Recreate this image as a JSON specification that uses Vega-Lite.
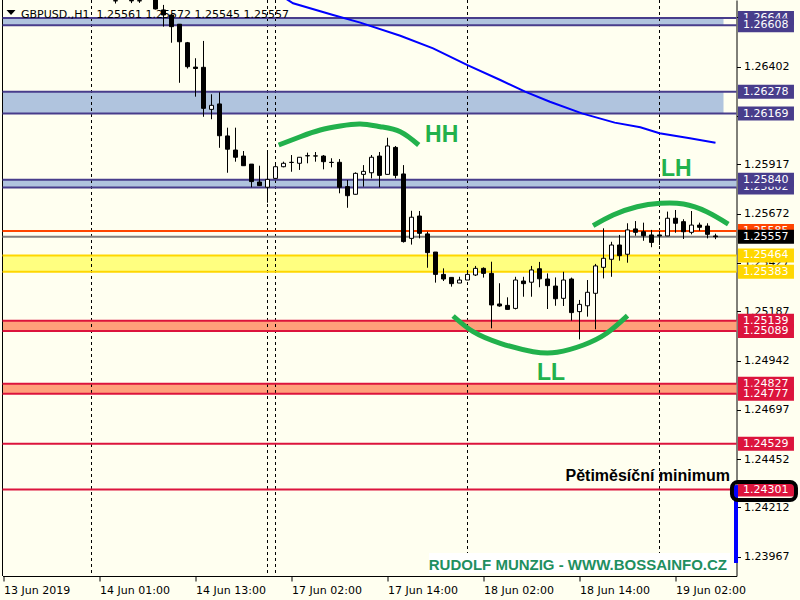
{
 "$schema": "https://vega.github.io/schema/vega-lite/v6.json",
 "width": 734,
 "height": 576,
 "autosize": {"type": "none"},
 "padding": {"left": 2.5, "top": 0, "right": 63.5, "bottom": 24},
 "background": "#FFFFF0",
 "config": {"view": {"stroke": null}, "font": "DejaVu Sans"},
 "datasets": {
  "zones": [
   {"x1": -10, "x2": 90, "p1": 1.26644, "p2": 1.26608, "kind": "blue"},
   {"x1": -10, "x2": 90, "p1": 1.26278, "p2": 1.26169, "kind": "blue"},
   {"x1": -10, "x2": 95, "p1": 1.25840, "p2": 1.25802, "kind": "blue"},
   {"x1": -10, "x2": 95, "p1": 1.25464, "p2": 1.25383, "kind": "yellow"},
   {"x1": -10, "x2": 95, "p1": 1.25139, "p2": 1.25089, "kind": "red"},
   {"x1": -10, "x2": 95, "p1": 1.24827, "p2": 1.24777, "kind": "red"}
  ],
  "hlines": [
   {"p": 1.26644, "kind": "blue"}, {"p": 1.26608, "kind": "blue"},
   {"p": 1.26278, "kind": "blue"}, {"p": 1.26169, "kind": "blue"},
   {"p": 1.25840, "kind": "blue"}, {"p": 1.25802, "kind": "blue"},
   {"p": 1.25464, "kind": "yellow"}, {"p": 1.25383, "kind": "yellow"},
   {"p": 1.25139, "kind": "red"}, {"p": 1.25089, "kind": "red"},
   {"p": 1.24827, "kind": "red"}, {"p": 1.24777, "kind": "red"},
   {"p": 1.24529, "kind": "red"}, {"p": 1.24301, "kind": "red"},
   {"p": 1.25585, "kind": "ask"}, {"p": 1.25557, "kind": "bid"}
  ],
  "seps": [{"i": 11}, {"i": 33}, {"i": 34}, {"i": 58}, {"i": 82}],
  "ma": [
   {"i": 34.5, "p": 1.26760}, {"i": 36.2, "p": 1.26717}, {"i": 41.2, "p": 1.26659},
   {"i": 44.6, "p": 1.26621}, {"i": 49.6, "p": 1.26556}, {"i": 53.7, "p": 1.26493},
   {"i": 58.0, "p": 1.26410}, {"i": 62.1, "p": 1.26336}, {"i": 65.2, "p": 1.26278},
   {"i": 68.3, "p": 1.26228}, {"i": 72.3, "p": 1.26170}, {"i": 76.4, "p": 1.26124},
   {"i": 79.6, "p": 1.26101}, {"i": 82.0, "p": 1.26071}, {"i": 85.8, "p": 1.26046},
   {"i": 89.0, "p": 1.26024}
  ],
  "candles": [
   {"i": 14, "o": 1.26730, "h": 1.26760, "l": 1.26716, "c": 1.26729},
   {"i": 16, "o": 1.26731, "h": 1.26760, "l": 1.26718, "c": 1.26729},
   {"i": 17, "o": 1.26730, "h": 1.26755, "l": 1.26719, "c": 1.26729},
   {"i": 19, "o": 1.26760, "h": 1.26770, "l": 1.26686, "c": 1.26689},
   {"i": 20, "o": 1.26684, "h": 1.26709, "l": 1.26601, "c": 1.26659},
   {"i": 21, "o": 1.26659, "h": 1.26664, "l": 1.26521, "c": 1.26601},
   {"i": 22, "o": 1.26613, "h": 1.26613, "l": 1.26322, "c": 1.26526},
   {"i": 23, "o": 1.26521, "h": 1.26525, "l": 1.26393, "c": 1.26402},
   {"i": 24, "o": 1.26400, "h": 1.26444, "l": 1.26253, "c": 1.26393},
   {"i": 25, "o": 1.26399, "h": 1.26530, "l": 1.26153, "c": 1.26195},
   {"i": 26, "o": 1.26190, "h": 1.26265, "l": 1.26141, "c": 1.26210},
   {"i": 27, "o": 1.26217, "h": 1.26275, "l": 1.25999, "c": 1.26059},
   {"i": 28, "o": 1.26058, "h": 1.26099, "l": 1.25875, "c": 1.25992},
   {"i": 29, "o": 1.25988, "h": 1.26099, "l": 1.25930, "c": 1.25952},
   {"i": 30, "o": 1.25958, "h": 1.25983, "l": 1.25910, "c": 1.25910},
   {"i": 31, "o": 1.25918, "h": 1.25918, "l": 1.25803, "c": 1.25831},
   {"i": 32, "o": 1.25829, "h": 1.25910, "l": 1.25809, "c": 1.25811},
   {"i": 33, "o": 1.25803, "h": 1.25988, "l": 1.25726, "c": 1.25842},
   {"i": 34, "o": 1.25847, "h": 1.25924, "l": 1.25846, "c": 1.25905},
   {"i": 35, "o": 1.25905, "h": 1.25930, "l": 1.25902, "c": 1.25922},
   {"i": 36, "o": 1.25926, "h": 1.25963, "l": 1.25880, "c": 1.25927},
   {"i": 37, "o": 1.25922, "h": 1.25953, "l": 1.25889, "c": 1.25952},
   {"i": 38, "o": 1.25959, "h": 1.25975, "l": 1.25922, "c": 1.25960},
   {"i": 39, "o": 1.25958, "h": 1.25978, "l": 1.25930, "c": 1.25959},
   {"i": 40, "o": 1.25958, "h": 1.25963, "l": 1.25892, "c": 1.25930},
   {"i": 41, "o": 1.25927, "h": 1.25947, "l": 1.25902, "c": 1.25926},
   {"i": 42, "o": 1.25927, "h": 1.25943, "l": 1.25773, "c": 1.25803},
   {"i": 43, "o": 1.25806, "h": 1.25839, "l": 1.25701, "c": 1.25761},
   {"i": 44, "o": 1.25768, "h": 1.25877, "l": 1.25767, "c": 1.25872},
   {"i": 45, "o": 1.25867, "h": 1.25913, "l": 1.25806, "c": 1.25882},
   {"i": 46, "o": 1.25875, "h": 1.25963, "l": 1.25847, "c": 1.25952},
   {"i": 47, "o": 1.25958, "h": 1.25978, "l": 1.25803, "c": 1.25862},
   {"i": 48, "o": 1.25867, "h": 1.26049, "l": 1.25866, "c": 1.26008},
   {"i": 49, "o": 1.26001, "h": 1.26008, "l": 1.25847, "c": 1.25862},
   {"i": 50, "o": 1.25869, "h": 1.25913, "l": 1.25528, "c": 1.25533},
   {"i": 51, "o": 1.25549, "h": 1.25686, "l": 1.25518, "c": 1.25654},
   {"i": 52, "o": 1.25660, "h": 1.25685, "l": 1.25549, "c": 1.25574},
   {"i": 53, "o": 1.25571, "h": 1.25582, "l": 1.25403, "c": 1.25478},
   {"i": 54, "o": 1.25481, "h": 1.25481, "l": 1.25329, "c": 1.25370},
   {"i": 55, "o": 1.25370, "h": 1.25400, "l": 1.25337, "c": 1.25347},
   {"i": 56, "o": 1.25355, "h": 1.25355, "l": 1.25309, "c": 1.25324},
   {"i": 57, "o": 1.25327, "h": 1.25358, "l": 1.25327, "c": 1.25342},
   {"i": 58, "o": 1.25342, "h": 1.25392, "l": 1.25342, "c": 1.25370},
   {"i": 59, "o": 1.25367, "h": 1.25412, "l": 1.25362, "c": 1.25400},
   {"i": 60, "o": 1.25400, "h": 1.25405, "l": 1.25354, "c": 1.25375},
   {"i": 61, "o": 1.25375, "h": 1.25433, "l": 1.25102, "c": 1.25218},
   {"i": 62, "o": 1.25223, "h": 1.25326, "l": 1.25209, "c": 1.25213},
   {"i": 63, "o": 1.25216, "h": 1.25256, "l": 1.25196, "c": 1.25196},
   {"i": 64, "o": 1.25201, "h": 1.25358, "l": 1.25196, "c": 1.25342},
   {"i": 65, "o": 1.25337, "h": 1.25358, "l": 1.25259, "c": 1.25324},
   {"i": 66, "o": 1.25331, "h": 1.25412, "l": 1.25259, "c": 1.25392},
   {"i": 67, "o": 1.25398, "h": 1.25432, "l": 1.25306, "c": 1.25348},
   {"i": 68, "o": 1.25347, "h": 1.25375, "l": 1.25198, "c": 1.25314},
   {"i": 69, "o": 1.25312, "h": 1.25355, "l": 1.25214, "c": 1.25249},
   {"i": 70, "o": 1.25251, "h": 1.25383, "l": 1.25213, "c": 1.25342},
   {"i": 71, "o": 1.25347, "h": 1.25354, "l": 1.25140, "c": 1.25180},
   {"i": 72, "o": 1.25185, "h": 1.25243, "l": 1.25047, "c": 1.25221},
   {"i": 73, "o": 1.25214, "h": 1.25342, "l": 1.25160, "c": 1.25281},
   {"i": 74, "o": 1.25276, "h": 1.25422, "l": 1.25097, "c": 1.25412},
   {"i": 75, "o": 1.25405, "h": 1.25599, "l": 1.25350, "c": 1.25450},
   {"i": 76, "o": 1.25445, "h": 1.25532, "l": 1.25358, "c": 1.25516},
   {"i": 77, "o": 1.25516, "h": 1.25566, "l": 1.25438, "c": 1.25463},
   {"i": 78, "o": 1.25470, "h": 1.25624, "l": 1.25428, "c": 1.25591},
   {"i": 79, "o": 1.25596, "h": 1.25635, "l": 1.25562, "c": 1.25579},
   {"i": 80, "o": 1.25582, "h": 1.25627, "l": 1.25537, "c": 1.25562},
   {"i": 81, "o": 1.25566, "h": 1.25591, "l": 1.25505, "c": 1.25529},
   {"i": 82, "o": 1.25566, "h": 1.25586, "l": 1.25516, "c": 1.25561},
   {"i": 83, "o": 1.25561, "h": 1.25682, "l": 1.25561, "c": 1.25649},
   {"i": 84, "o": 1.25649, "h": 1.25690, "l": 1.25577, "c": 1.25624},
   {"i": 85, "o": 1.25632, "h": 1.25644, "l": 1.25546, "c": 1.25582},
   {"i": 86, "o": 1.25579, "h": 1.25685, "l": 1.25569, "c": 1.25615},
   {"i": 87, "o": 1.25615, "h": 1.25627, "l": 1.25587, "c": 1.25604},
   {"i": 88, "o": 1.25610, "h": 1.25624, "l": 1.25549, "c": 1.25569},
   {"i": 89, "o": 1.25561, "h": 1.25572, "l": 1.25545, "c": 1.25557}
  ],
  "arcs": [
   {"arc": "HH", "i": 34.4, "p": 1.260129}, {"arc": "HH", "i": 37.1, "p": 1.260541},
   {"arc": "HH", "i": 39.6, "p": 1.260874}, {"arc": "HH", "i": 42.1, "p": 1.261073},
   {"arc": "HH", "i": 44.6, "p": 1.261172}, {"arc": "HH", "i": 47.1, "p": 1.261038},
   {"arc": "HH", "i": 49.6, "p": 1.260790}, {"arc": "HH", "i": 51.9, "p": 1.260129},
   {"arc": "LH", "i": 73.7, "p": 1.256119}, {"arc": "LH", "i": 76.2, "p": 1.256651},
   {"arc": "LH", "i": 79.2, "p": 1.257063}, {"arc": "LH", "i": 82.1, "p": 1.257232},
   {"arc": "LH", "i": 85.0, "p": 1.257197}, {"arc": "LH", "i": 87.9, "p": 1.256815},
   {"arc": "LH", "i": 90.6, "p": 1.256203},
   {"arc": "LL", "i": 56.2, "p": 1.251632}, {"arc": "LL", "i": 58.7, "p": 1.250852},
   {"arc": "LL", "i": 62.1, "p": 1.250275}, {"arc": "LL", "i": 66.2, "p": 1.249858},
   {"arc": "LL", "i": 69.2, "p": 1.249828}, {"arc": "LL", "i": 72.5, "p": 1.250191},
   {"arc": "LL", "i": 75.4, "p": 1.250772}, {"arc": "LL", "i": 78.0, "p": 1.251647}
  ],
  "waves": [
   {"i": 52.69, "p": 1.260278, "t": "HH"},
   {"i": 82.19, "p": 1.258589, "t": "LH"},
   {"i": 66.69, "p": 1.248452, "t": "LL"}
  ],
  "boxes": [
   {"p": 1.26644, "kind": "blue", "z": 0},
   {"p": 1.25802, "kind": "blue", "z": 0},
   {"p": 1.25585, "kind": "ask", "z": 0},
   {"p": 1.25139, "kind": "red", "z": 0},
   {"p": 1.24827, "kind": "red", "z": 0},
   {"p": 1.26608, "kind": "blue", "z": 1},
   {"p": 1.26278, "kind": "blue", "z": 1},
   {"p": 1.26169, "kind": "blue", "z": 1},
   {"p": 1.25840, "kind": "blue", "z": 1},
   {"p": 1.25557, "kind": "bid", "z": 1},
   {"p": 1.25464, "kind": "yellow", "z": 1},
   {"p": 1.25383, "kind": "yellow", "z": 1},
   {"p": 1.25089, "kind": "red", "z": 1},
   {"p": 1.24777, "kind": "red", "z": 1},
   {"p": 1.24529, "kind": "red", "z": 1},
   {"p": 1.24301, "kind": "red", "z": 1}
  ]
 },
 "resolve": {"scale": {"fill": "independent", "stroke": "independent", "strokeWidth": "independent"}},
 "layer": [
  {
   "data": {"name": "zones"},
   "mark": {"type": "rect", "clip": true},
   "encoding": {
    "x": {"field": "x1", "type": "quantitative",
     "scale": {"domain": [-0.125, 91.625], "nice": false, "zero": false, "padding": 0},
     "axis": {"orient": "bottom", "values": [0, 12, 24, 36, 48, 60, 72, 84],
      "labelExpr": "['13 Jun 2019','14 Jun 01:00','14 Jun 13:00','17 Jun 02:00','17 Jun 14:00','18 Jun 02:00','18 Jun 14:00','19 Jun 02:00'][round(datum.value/12)]",
      "title": null, "grid": false, "tickSize": 5, "labelPadding": 3, "labelAlign": "left", "labelBaseline": "top",
      "labelFlush": false, "labelOverlap": false, "labelBound": false, "domainColor": "black", "tickColor": "black",
      "labelColor": "black", "labelFont": "DejaVu Sans", "labelFontSize": 11}},
    "x2": {"field": "x2"},
    "y": {"field": "p1", "type": "quantitative",
     "scale": {"domain": [1.238713, 1.267334], "nice": false, "zero": false, "padding": 0},
     "axis": {"orient": "right", "values": [1.26647, 1.26402, 1.26157, 1.25917, 1.25672, 1.25427, 1.25187, 1.24942, 1.24697, 1.24452, 1.24212, 1.23967],
      "format": ".5f", "title": null, "grid": false, "tickSize": 4, "labelPadding": 3, "labelAlign": "left", "labelBaseline": "middle",
      "labelFlush": false, "labelOverlap": false, "labelBound": false, "domainColor": "black", "tickColor": "black",
      "labelColor": "black", "labelFont": "DejaVu Sans", "labelFontSize": 11}},
    "y2": {"field": "p2"},
    "fill": {"field": "kind", "type": "nominal", "legend": null,
     "scale": {"domain": ["blue", "yellow", "red"], "range": ["#B0C4DE", "#FFFF80", "#FFA07A"]}}
   }
  },
  {
   "data": {"name": "seps"},
   "mark": {"type": "rule", "color": "black", "strokeWidth": 1, "strokeDash": [3, 3]},
   "encoding": {"x": {"field": "i", "type": "quantitative"}}
  },
  {
   "data": {"values": [{"i": -0.125}]},
   "mark": {"type": "rule", "color": "black", "strokeWidth": 1},
   "encoding": {"x": {"field": "i", "type": "quantitative"}}
  },
  {
   "data": {"name": "hlines"},
   "mark": {"type": "rule"},
   "encoding": {
    "y": {"field": "p", "type": "quantitative"},
    "stroke": {"field": "kind", "type": "nominal", "legend": null,
     "scale": {"domain": ["blue", "yellow", "red", "ask", "bid"], "range": ["#483D8B", "#FFD700", "#DC143C", "#FF4500", "#808080"]}},
    "strokeWidth": {"field": "kind", "type": "nominal", "legend": null,
     "scale": {"domain": ["blue", "yellow", "red", "ask", "bid"], "range": [2, 2, 2, 1, 1]}}
   }
  },
  {
   "data": {"name": "ma"},
   "mark": {"type": "line", "color": "#0000FF", "strokeWidth": 2, "clip": true},
   "encoding": {
    "x": {"field": "i", "type": "quantitative"},
    "y": {"field": "p", "type": "quantitative"}
   }
  },
  {
   "data": {"values": [{"i": 2.19, "p": 1.266455, "t": "GBPUSD.,H1\u00a0 1.25561 1.25572 1.25545 1.25557"}]},
   "mark": {"type": "text", "font": "DejaVu Sans", "fontSize": 11, "color": "black", "align": "left", "baseline": "alphabetic"},
   "encoding": {
    "x": {"field": "i", "type": "quantitative"},
    "y": {"field": "p", "type": "quantitative"},
    "text": {"field": "t"}
   }
  },
  {
   "data": {"values": [{"i": 0.94, "p": 1.266713}]},
   "mark": {"type": "point", "shape": "M-1,-0.55L1,-0.55L0,0.55Z", "size": 81, "filled": true, "color": "black", "opacity": 1},
   "encoding": {
    "x": {"field": "i", "type": "quantitative"},
    "y": {"field": "p", "type": "quantitative"}
   }
  },
  {
   "data": {"name": "candles"},
   "mark": {"type": "rule", "color": "black", "strokeWidth": 1, "clip": true},
   "encoding": {
    "x": {"field": "i", "type": "quantitative"},
    "y": {"field": "l", "type": "quantitative"},
    "y2": {"field": "h"}
   }
  },
  {
   "data": {"name": "candles"},
   "mark": {"type": "bar", "size": 4, "stroke": "black", "strokeWidth": 1, "clip": true},
   "encoding": {
    "x": {"field": "i", "type": "quantitative"},
    "y": {"field": "o", "type": "quantitative"},
    "y2": {"field": "c"},
    "fill": {"condition": {"test": "datum.c >= datum.o", "value": "white"}, "value": "black"}
   }
  },
  {
   "data": {"name": "arcs"},
   "mark": {"type": "line", "color": "#22B14C", "strokeWidth": 5, "interpolate": "natural"},
   "encoding": {
    "x": {"field": "i", "type": "quantitative"},
    "y": {"field": "p", "type": "quantitative"},
    "detail": {"field": "arc", "type": "nominal"}
   }
  },
  {
   "data": {"name": "waves"},
   "mark": {"type": "text", "font": "Liberation Sans", "fontWeight": "bold", "fontSize": 23, "color": "#22B14C", "align": "left", "baseline": "alphabetic"},
   "encoding": {
    "x": {"field": "i", "type": "quantitative"},
    "y": {"field": "p", "type": "quantitative"},
    "text": {"field": "t"}
   }
  },
  {
   "data": {"values": [{"i": 90.81, "p": 1.243434, "t": "Pětiměsíční minimum"}]},
   "mark": {"type": "text", "font": "Liberation Sans", "fontWeight": "bold", "fontSize": 16, "color": "black", "align": "right", "baseline": "alphabetic"},
   "encoding": {
    "x": {"field": "i", "type": "quantitative"},
    "y": {"field": "p", "type": "quantitative"},
    "text": {"field": "t"}
   }
  },
  {
   "data": {"values": [{"i": 72.0, "p": 1.239359}]},
   "mark": {"type": "tick", "orient": "horizontal", "size": 301, "thickness": 20, "color": "white", "opacity": 1},
   "encoding": {
    "x": {"field": "i", "type": "quantitative"},
    "y": {"field": "p", "type": "quantitative"}
   }
  },
  {
   "data": {"values": [{"i": 90.44, "p": 1.239011, "t": "RUDOLF MUNZIG - WWW.BOSSAINFO.CZ"}]},
   "mark": {"type": "text", "font": "Liberation Sans", "fontWeight": "bold", "fontSize": 15, "color": "#1F8F5F", "align": "right", "baseline": "alphabetic"},
   "encoding": {
    "x": {"field": "i", "type": "quantitative"},
    "y": {"field": "p", "type": "quantitative"},
    "text": {"field": "t"}
   }
  },
  {
   "data": {"values": [{"i": 91.56, "p1": 1.24323, "p2": 1.23936}]},
   "mark": {"type": "rule", "color": "#0000FF", "strokeWidth": 4},
   "encoding": {
    "x": {"field": "i", "type": "quantitative"},
    "y": {"field": "p1", "type": "quantitative"},
    "y2": {"field": "p2"}
   }
  },
  {
   "data": {"name": "boxes"},
   "transform": [{"filter": "datum.z == 0"}],
   "layer": [
    {
     "mark": {"type": "tick", "orient": "horizontal", "size": 56, "thickness": 14, "opacity": 1},
     "encoding": {
      "x": {"datum": 95.31, "type": "quantitative"},
      "y": {"field": "p", "type": "quantitative"},
      "fill": {"field": "kind", "type": "nominal", "legend": null,
       "scale": {"domain": ["blue", "yellow", "red", "ask", "bid"], "range": ["#483D8B", "#FFD700", "#DC143C", "#FF4500", "#000000"]}}
     }
    },
    {
     "mark": {"type": "text", "font": "DejaVu Sans", "fontSize": 11, "color": "white", "align": "left", "baseline": "middle"},
     "encoding": {
      "x": {"datum": 92.44, "type": "quantitative"},
      "y": {"field": "p", "type": "quantitative"},
      "text": {"field": "p", "type": "quantitative", "format": ".5f"}
     }
    }
   ]
  },
  {
   "data": {"name": "boxes"},
   "transform": [{"filter": "datum.z == 1"}],
   "layer": [
    {
     "mark": {"type": "tick", "orient": "horizontal", "size": 56, "thickness": 14, "opacity": 1},
     "encoding": {
      "x": {"datum": 95.31, "type": "quantitative"},
      "y": {"field": "p", "type": "quantitative"},
      "fill": {"field": "kind", "type": "nominal", "legend": null,
       "scale": {"domain": ["blue", "yellow", "red", "ask", "bid"], "range": ["#483D8B", "#FFD700", "#DC143C", "#FF4500", "#000000"]}}
     }
    },
    {
     "mark": {"type": "text", "font": "DejaVu Sans", "fontSize": 11, "color": "white", "align": "left", "baseline": "middle"},
     "encoding": {
      "x": {"datum": 92.44, "type": "quantitative"},
      "y": {"field": "p", "type": "quantitative"},
      "text": {"field": "p", "type": "quantitative", "format": ".5f"}
     }
    }
   ]
  },
  {
   "data": {"values": [{"i": 95.06, "p": 1.242936}]},
   "mark": {"type": "tick", "orient": "horizontal", "size": 64, "thickness": 18, "fill": "transparent", "stroke": "black", "strokeWidth": 4, "cornerRadius": 6, "opacity": 1},
   "encoding": {
    "x": {"field": "i", "type": "quantitative"},
    "y": {"field": "p", "type": "quantitative"}
   }
  }
 ]
}
